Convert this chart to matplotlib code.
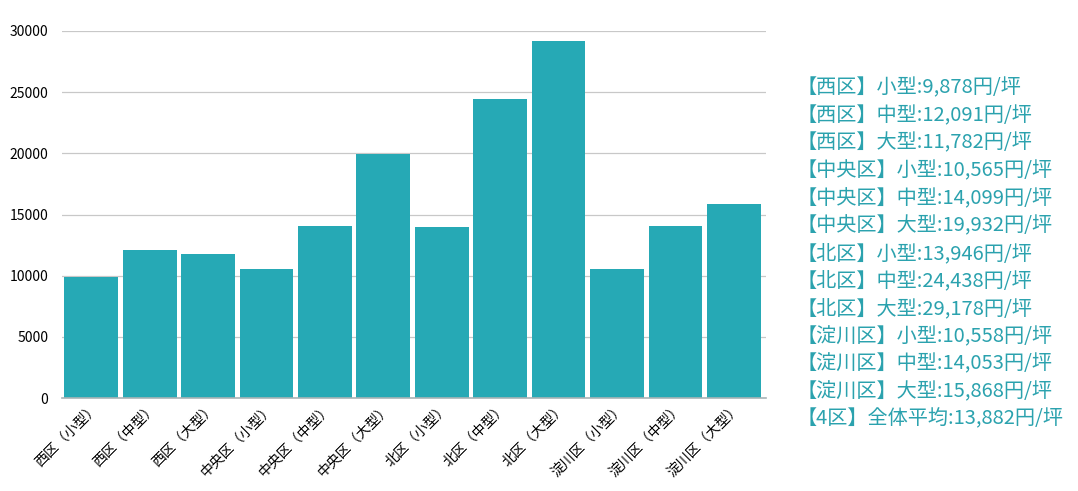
import matplotlib
matplotlib.use("Agg")
import matplotlib.pyplot as plt

plt.rcParams['font.family'] = ['Noto Sans CJK JP', 'DejaVu Sans']

# data
categories = ['西区（小型）', '西区（中型）', '西区（大型）',
              '中央区（小型）', '中央区（中型）', '中央区（大型）',
              '北区（小型）', '北区（中型）', '北区（大型）',
              '淀川区（小型）', '淀川区（中型）', '淀川区（大型）']
values = [9878, 12091, 11782, 10565, 14099, 19932,
          13946, 24438, 29178, 10558, 14053, 15868]
legend_lines = ['【西区】小型:9,878円/坪', '【西区】中型:12,091円/坪', '【西区】大型:11,782円/坪',
                '【中央区】小型:10,565円/坪', '【中央区】中型:14,099円/坪', '【中央区】大型:19,932円/坪',
                '【北区】小型:13,946円/坪', '【北区】中型:24,438円/坪', '【北区】大型:29,178円/坪',
                '【淀川区】小型:10,558円/坪', '【淀川区】中型:14,053円/坪', '【淀川区】大型:15,868円/坪',
                '【4区】全体平均:13,882円/坪']
yticks = [0, 5000, 10000, 15000, 20000, 25000, 30000]

bar_color = '#26a9b5'
text_color = '#2ba2ae'

fig = plt.figure(figsize=(10.78, 4.91), dpi=100)
ax = fig.add_axes([62 / 1078, 1 - 398 / 491, (766 - 62) / 1078, (398 - 31) / 491])

x = range(len(categories))
ax.bar(x, values, width=0.92, color=bar_color, zorder=2)
ax.set_xlim(-0.5, len(categories) - 0.45)
ax.set_ylim(0, 30000)
ax.set_yticks(yticks)
ax.set_yticklabels([str(v) for v in yticks], fontsize=10)
ax.set_xticks(list(x))
ax.set_xticklabels(categories, rotation=45, ha='right', rotation_mode='anchor', fontsize=10)
ax.tick_params(axis='y', length=0, pad=10)
ax.tick_params(axis='x', length=0, pad=2)
ax.grid(axis='y', color='#c8c8c8', linewidth=0.9, zorder=0)
for s in ['top', 'right', 'left']:
    ax.spines[s].set_visible(False)
ax.spines['bottom'].set_color('#a8b4b6')
ax.spines['bottom'].set_linewidth(1.2)
ax.spines['bottom'].set_zorder(3)

for i, line in enumerate(legend_lines):
    fig.text(797 / 1078, 1 - (88 + i * 27.6) / 491, line, fontsize=14.5,
             color=text_color, va='center', ha='left')

fig.savefig('out.png', dpi=100)
